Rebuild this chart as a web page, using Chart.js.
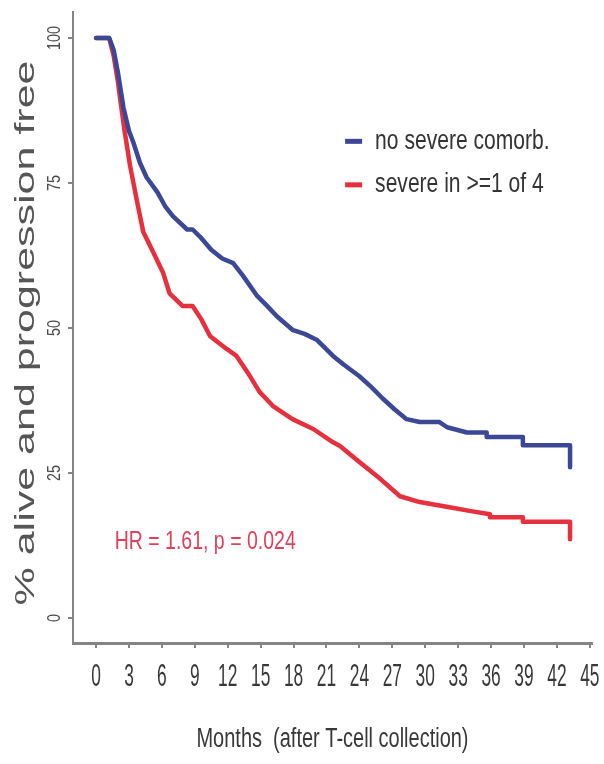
<!DOCTYPE html>
<html>
   <head>
      <meta charset="UTF-8">
      <title>PFS by comorbidity</title>
      <script src="https://cdn.jsdelivr.net/npm/chart.js@4.4.1/dist/chart.umd.min.js"></script>
      <style>
         html,body{margin:0;padding:0;background:#fff;}
         #wrap{width:604px;height:764px;position:relative;}
      </style>
   </head>
   <body>
    <div id="wrap"><canvas id="km"></canvas></div>

      <script>
         // Kaplan-Meier curves, months vs % alive and progression free
         const seriesNames=["no severe comorb.","severe in >=1 of 4"];
         const seriesColors=["#3c4896","#e6303e"];

         const monthsA=[0,1.2,1.6,2.0,2.5,3.0,3.4,4.0,4.6,5.6,6.3,7.0,8.3,8.8,9.6,10.5,11.5,12.5,
            13.4,14.7,15.5,16.5,17.9,19.0,20.1,21.6,22.5,24.0,25.0,26.1,27.2,28.3,29.5,31.3,
            32.0,33.8,35.6,35.6,38.9,38.9,43.2,43.2];
         const survA=[100,100,98,94,88,84,82,78.5,76,73.4,71,69.3,67,67,65.5,63.5,62,61.2,
            59,55.5,54,52,49.7,49,48,45.2,43.8,41.7,40,37.9,36,34.3,33.8,33.8,
            32.9,32,32,31.2,31.2,29.8,29.8,26];

         const monthsB=[0,1.2,1.6,2.0,2.2,2.6,3.1,3.7,4.3,5.2,6.1,6.7,7.9,8.8,9.6,10.4,11.9,12.8,
            13.8,14.9,16.1,17.9,19.8,21.6,22.2,24.0,25.9,27.7,29.5,32.2,34.3,35.9,35.9,38.9,38.9,
            43.2,43.2];
         const survB=[100,100,97,92.4,89.5,84,78,72.2,66.6,63.1,59.6,56,53.8,53.8,51.5,48.6,46.4,45.2,
            42.4,39,36.6,34.3,32.6,30.3,29.7,26.9,24,21,20,19.1,18.4,17.9,17.4,17.4,16.6,
            16.6,13.6];

         const xTicks=[0,3,6,9,12,15,18,21,24,27,30,33,36,39,42,45];
         const yTicks=[0,25,50,75,100];

         const xTitle="Months  (after T-cell collection)";
         const yTitle="% alive and progression free";
         const hrText="HR = 1.61, p = 0.024";

         const SANS="'Liberation Sans',Arial,sans-serif";
         const AXIS_GREY="#858585";

         const toXY=(xs,ys)=>xs.map((m,i)=>({x:m,y:ys[i]}));

         // text squeezed along its own baseline (narrow look)
         function narrowText(ctx,txt,x,y,size,color,squeeze,align,rot){
            ctx.save();
            ctx.translate(x,y);
            if(rot) ctx.rotate(rot);
            ctx.scale(squeeze,1);
            ctx.font=size+"px "+SANS;
            ctx.fillStyle=color;
            ctx.textAlign=align||"center";
            ctx.textBaseline="middle";
            ctx.fillText(txt,0,0);
            ctx.restore();
         }

         const extras={
            id:"extras",
            afterDraw(chart){
               const {ctx,chartArea,scales:{x,y}}=chart;

               // tick labels
               x.ticks.forEach(t=>{
                  narrowText(ctx,String(t.value),x.getPixelForValue(t.value),677,31,"#383838",0.56);
               });
               y.ticks.forEach(t=>{
                  narrowText(ctx,String(t.value),55,y.getPixelForValue(t.value),18,"#4a4a4a",0.8,"center",-Math.PI/2);
               });

               // x title
               narrowText(ctx,xTitle,(chartArea.left+chartArea.right)/2,740,27,"#383838",0.74);

               // y title: tall along the axis, thin across it
               ctx.save();
               ctx.translate(26,333);
               ctx.rotate(-Math.PI/2);
               ctx.scale(1,0.64);
               ctx.font="43px "+SANS;
               ctx.fillStyle="#555";
               ctx.textAlign="center";
               ctx.textBaseline="middle";
               ctx.fillText(yTitle,0,0);
               ctx.restore();

               // legend
               const legX=x.getPixelForValue(22.7);
               seriesNames.forEach((name,i)=>{
                  const ly=y.getPixelForValue(82.2-i*7.5);
                  ctx.save();
                  ctx.strokeStyle=seriesColors[i];
                  ctx.lineWidth=5;
                  ctx.beginPath();
                  ctx.moveTo(legX,ly);
                  ctx.lineTo(legX+17,ly);
                  ctx.stroke();
                  ctx.restore();
                  narrowText(ctx,name,legX+30,ly,27,"#333",0.78,"left");
               });

               // hazard ratio
               narrowText(ctx,hrText,x.getPixelForValue(1.7),y.getPixelForValue(13.1),26,"#e2405a",0.75,"left");
            }
         };

         const chart=new Chart(document.getElementById("km"),{
            type:"line",
            data:{
               datasets:[
                  {label:seriesNames[0],data:toXY(monthsA,survA),borderColor:seriesColors[0]},
                  {label:seriesNames[1],data:toXY(monthsB,survB),borderColor:seriesColors[1]}
               ]
            },
            options:{
               responsive:true,
               maintainAspectRatio:false,
               animation:false,
               layout:{padding:{top:12,right:12,left:0,bottom:0}},
               elements:{
                  line:{borderWidth:4.5,tension:0,borderCapStyle:"round",borderJoinStyle:"round"},
                  point:{radius:0}
               },
               plugins:{legend:{display:false},tooltip:{enabled:false}},
               scales:{
                  x:{
                     type:"linear",
                     min:-2.1,max:45.2,
                     afterBuildTicks:s=>{s.ticks=xTicks.map(v=>({value:v}));},
                     afterFit:s=>{s.height=121;},
                     grid:{display:true,drawOnChartArea:false,drawTicks:true,tickLength:5,color:AXIS_GREY,lineWidth:2},
                     border:{display:true,color:AXIS_GREY,width:3},
                     ticks:{display:false}
                  },
                  y:{
                     type:"linear",
                     min:-4.3,max:104.5,
                     afterBuildTicks:s=>{s.ticks=yTicks.map(v=>({value:v}));},
                     afterFit:s=>{s.width=73;},
                     grid:{display:true,drawOnChartArea:false,drawTicks:true,tickLength:5,color:AXIS_GREY,lineWidth:2},
                     border:{display:true,color:AXIS_GREY,width:2},
                     ticks:{display:false}
                  }
               }
            },
            plugins:[extras]
         });
      </script>
   </body>
</html>
